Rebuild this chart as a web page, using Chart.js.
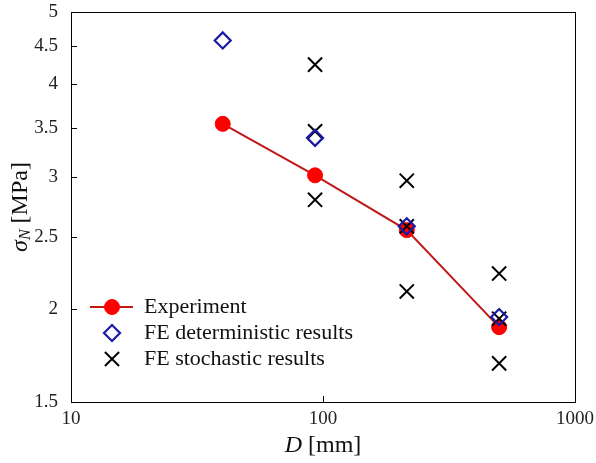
<!DOCTYPE html>
<html>
<head>
<meta charset="utf-8">
<script src="https://cdn.jsdelivr.net/npm/chart.js@4.4.1/dist/chart.umd.min.js"></script>
<style>
  html, body { margin: 0; padding: 0; background: #fff; }
  #wrap { width: 596px; height: 463px; }
</style>
</head>
<body>
<div id="wrap"><canvas id="chart" width="596" height="463"></canvas></div>
<script>
// specimen sizes D [mm]
const expD = [40, 93, 215, 500];
const expSigma = [3.54, 3.02, 2.55, 1.89];

const detD = [40, 93, 215, 500];
const detSigma = [4.58, 3.39, 2.58, 1.95];

const stoD = [93, 93, 93, 215, 215, 215, 500, 500, 500];
const stoSigma = [4.25, 3.46, 2.80, 2.97, 2.58, 2.11, 2.23, 1.94, 1.69];

const xTicks = [10, 100, 1000];
const yTicks = [1.5, 2, 2.5, 3, 3.5, 4, 4.5, 5];

const legendLabels = ['Experiment', 'FE deterministic results', 'FE stochastic results'];

function toPoints(xs, ys) {
    let pts = [];
    for (let i = 0; i < xs.length; i++) {
        pts.push({x: xs[i], y: ys[i]});
    }
    return pts;
}

const serif = '"Liberation Serif", "Times New Roman", serif';

// box, inner ticks, axis titles and legend
const decorPlugin = {
    id: 'decor',
    afterDraw(chart) {
        const ctx = chart.ctx;
        const a = chart.chartArea;
        const xs = chart.scales.x, ys = chart.scales.y;
        ctx.save();
        ctx.strokeStyle = '#000';
        ctx.lineWidth = 1;
        ctx.strokeRect(a.left + 0.5, a.top + 0.5, a.right - a.left, a.bottom - a.top);
        ctx.beginPath();
        yTicks.forEach(v => {
            if (v === yTicks[0] || v === yTicks[yTicks.length - 1]) return;
            const py = Math.round(ys.getPixelForValue(v)) + 0.5;
            ctx.moveTo(a.left, py);
            ctx.lineTo(a.left + 6, py);
        });
        const px = Math.round(xs.getPixelForValue(100)) + 0.5;
        ctx.moveTo(px, a.bottom);
        ctx.lineTo(px, a.bottom - 6);
        ctx.stroke();

        // x title
        ctx.fillStyle = '#111';
        ctx.textBaseline = 'middle';
        ctx.font = 'italic 24px ' + serif;
        const w1 = ctx.measureText('D').width;
        ctx.font = '24px ' + serif;
        const w2 = ctx.measureText(' [mm]').width;
        let sx = (a.left + a.right) / 2 - (w1 + w2) / 2;
        ctx.font = 'italic 24px ' + serif;
        ctx.fillText('D', sx, 446);
        ctx.font = '24px ' + serif;
        ctx.fillText(' [mm]', sx + w1, 446);

        // y title
        ctx.save();
        ctx.translate(21, (a.top + a.bottom) / 2);
        ctx.rotate(-Math.PI / 2);
        ctx.font = 'italic 24px ' + serif;
        const s1 = ctx.measureText('σ').width;
        ctx.font = 'italic 16px ' + serif;
        const s2 = ctx.measureText('N').width;
        ctx.font = '24px ' + serif;
        const s3 = ctx.measureText(' [MPa]').width;
        let ty = -(s1 + s2 + s3) / 2;
        ctx.font = 'italic 24px ' + serif;
        ctx.fillText('σ', ty, 0);
        ctx.font = 'italic 16px ' + serif;
        ctx.fillText('N', ty + s1, 5);
        ctx.font = '24px ' + serif;
        ctx.fillText(' [MPa]', ty + s1 + s2, 0);
        ctx.restore();

        // legend
        const rows = [307, 333, 359];
        const mx = 112;
        ctx.font = '22px ' + serif;
        ctx.fillStyle = '#111';
        legendLabels.forEach((t, i) => ctx.fillText(t, 144, rows[i]));
        const dsets = chart.data.datasets;
        ctx.strokeStyle = dsets[0].borderColor;
        ctx.lineWidth = 2;
        ctx.beginPath();
        ctx.moveTo(90, rows[0]);
        ctx.lineTo(133, rows[0]);
        ctx.stroke();
        const H = Chart.helpers;
        [0, 1, 2].forEach(i => {
            const d = dsets[i];
            ctx.fillStyle = d.pointBackgroundColor;
            ctx.strokeStyle = d.pointBorderColor;
            ctx.lineWidth = d.pointBorderWidth;
            H.drawPoint(ctx, {pointStyle: d.pointStyle, radius: d.pointRadius, rotation: 0, borderWidth: d.pointBorderWidth}, mx, rows[i]);
        });
        ctx.restore();
    }
};

const ctx = document.getElementById('chart').getContext('2d');
const myChart = new Chart(ctx, {
    type: 'scatter',
    data: {
        datasets: [{
            label: legendLabels[0],
            data: toPoints(expD, expSigma),
            showLine: true,
            borderColor: '#c01818',
            borderWidth: 2,
            pointStyle: 'circle',
            pointRadius: 7.5,
            pointBackgroundColor: '#ff0000',
            pointBorderColor: '#ff0000',
            pointBorderWidth: 1,
            order: 2
        }, {
            label: legendLabels[1],
            data: toPoints(detD, detSigma),
            pointStyle: 'rectRot',
            pointRadius: 8,
            pointBackgroundColor: 'rgba(0,0,0,0)',
            pointBorderColor: '#1a1aa6',
            pointBorderWidth: 2.2,
            order: 0
        }, {
            label: legendLabels[2],
            data: toPoints(stoD, stoSigma),
            pointStyle: 'crossRot',
            pointRadius: 10,
            pointBackgroundColor: '#000',
            pointBorderColor: '#000',
            pointBorderWidth: 2,
            order: 1
        }]
    },
    options: {
        responsive: false,
        animation: false,
        layout: { padding: { left: 0, top: 10, right: 21, bottom: 0 } },
        plugins: { legend: { display: false }, tooltip: { enabled: false } },
        scales: {
            x: {
                type: 'logarithmic',
                min: 10,
                max: 1000,
                grid: { display: false, drawTicks: false },
                border: { display: false },
                afterBuildTicks: s => { s.ticks = xTicks.map(v => ({value: v})); },
                afterFit: s => { s.height = 61; s.paddingLeft = 0; s.paddingRight = 0; },
                ticks: {
                    padding: 6,
                    color: '#222',
                    font: { family: serif, size: 19 },
                    maxRotation: 0,
                    callback: v => String(v)
                }
            },
            y: {
                type: 'logarithmic',
                min: 1.5,
                max: 5,
                grid: { display: false, drawTicks: false },
                border: { display: false },
                afterBuildTicks: s => { s.ticks = yTicks.map(v => ({value: v})); },
                afterFit: s => { s.width = 71; s.paddingTop = 0; s.paddingBottom = 0; },
                ticks: {
                    padding: 13,
                    color: '#222',
                    font: { family: serif, size: 19 },
                    callback: v => String(v)
                }
            }
        }
    },
    plugins: [decorPlugin]
});
</script>
</body>
</html>
